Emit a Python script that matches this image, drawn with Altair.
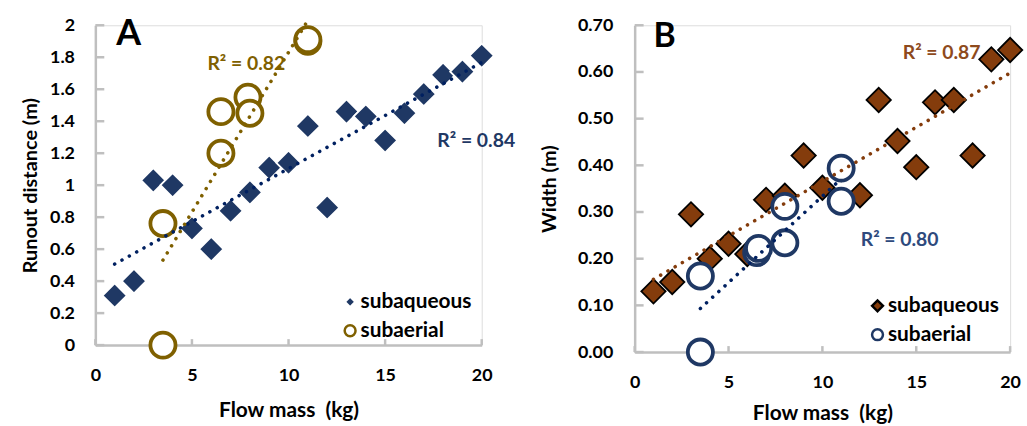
import altair as alt
import pandas as pd

# ---------------- data ----------------
series = ["subaqueous", "subaerial"]

a_aq_mass = [1, 2, 3, 4, 5, 6, 7, 8, 9, 10, 11, 12, 13, 14, 15, 16, 17, 18, 19, 20]
a_aq_runout = [0.31, 0.40, 1.03, 1.00, 0.73, 0.60, 0.84, 0.955, 1.11, 1.14,
               1.37, 0.86, 1.46, 1.43, 1.28, 1.45, 1.57, 1.69, 1.71, 1.81]
a_ae_mass = [3.5, 3.5, 6.5, 6.5, 7.9, 8.0, 11.0, 11.0]
a_ae_runout = [0.0, 0.76, 1.20, 1.46, 1.55, 1.45, 1.90, 1.91]

b_aq_mass = [1, 2, 3, 4, 5, 6, 7, 8, 9, 10, 11, 12, 13, 14, 15, 16, 17, 18, 19, 20]
b_aq_width = [0.13, 0.15, 0.295, 0.20, 0.232, 0.21, 0.326, 0.335, 0.421, 0.352,
              0.392, 0.336, 0.54, 0.452, 0.396, 0.535, 0.54, 0.421, 0.627, 0.647]
b_ae_mass = [3.5, 3.5, 6.5, 6.6, 8.0, 8.0, 11.0, 11.0]
b_ae_width = [0.0, 0.163, 0.213, 0.222, 0.234, 0.312, 0.394, 0.323]

a_r2_text = ["R² = 0.82", "R² = 0.84"]
a_r2_x = [5.8, 17.7]
a_r2_y = [1.76, 1.277]
b_r2_text = ["R² = 0.87", "R² = 0.80"]
b_r2_x = [14.28, 12.04]
b_r2_y = [0.640, 0.240]

x_ticks = [0, 5, 10, 15, 20]
a_y_ticks = [0, 0.2, 0.4, 0.6, 0.8, 1.0, 1.2, 1.4, 1.6, 1.8, 2.0]
b_y_ticks = [0, 0.1, 0.2, 0.3, 0.4, 0.5, 0.6, 0.7]

FONT = "Lato"
NAVY = "#1F3864"
GOLD = "#7F6000"
BROWN = "#843C0C"
DKBLUE = "#002060"
AXIS_GREY = "#BFBFBF"

AX_STYLE = dict(labelFont=FONT, labelFontSize=18, labelFontWeight="bold", labelColor="black",
                titleFont=FONT, titleFontWeight="bold", titleColor="black",
                labelOverlap=False, labelFlush=False, ticks=False, tickSize=0, grid=False,
                domainColor=AXIS_GREY, domainWidth=2.5)


def panel(aq_x, aq_y, ae_x, ae_y, ytitle, ydom, yticks, yfmt, h,
          aq_fill, aq_stroke, ae_stroke, aq_line, ae_line,
          r2_text, r2_x, r2_y, r2_colors, letter, letter_xy, letter_size,
          legend_xy, ylabel_pad, ytitle_pad, xlabel_pad, xtitle_pad, w):
    pts = pd.DataFrame({
        "mass": list(aq_x) + list(ae_x),
        "val": list(aq_y) + list(ae_y),
        "series": [series[0]] * len(aq_x) + [series[1]] * len(ae_x),
    })
    xs = alt.Scale(domain=[0, 20], nice=False)
    ys = alt.Scale(domain=ydom, nice=False)
    xaxis = alt.Axis(values=x_ticks, tickCount=len(x_ticks) + 1, title="Flow mass\u00a0 (kg)",
                     titleFontSize=21,
                     labelPadding=xlabel_pad, titlePadding=xtitle_pad, **AX_STYLE)
    yaxis = alt.Axis(values=yticks, tickCount=len(yticks) + 1, title=ytitle, format=yfmt,
                     titleFontSize=20,
                     labelPadding=ylabel_pad, titlePadding=ytitle_pad, **AX_STYLE)

    fill_s = alt.Scale(domain=series, range=[aq_fill, "white"])
    stroke_s = alt.Scale(domain=series, range=[aq_stroke, ae_stroke])
    shape_s = alt.Scale(domain=series, range=["diamond", "circle"])
    leg = alt.Legend(title=None, orient="none", legendX=legend_xy[0], legendY=legend_xy[1],
                     labelFont=FONT, labelFontSize=21, labelFontWeight="bold",
                     labelColor="black", symbolSize=120, symbolStrokeWidth=2.5,
                     rowPadding=7, labelOffset=0, padding=0)

    enc = dict(
        x=alt.X("mass:Q", scale=xs, axis=xaxis),
        y=alt.Y("val:Q", scale=ys, axis=yaxis),
        fill=alt.Fill("series:N", scale=fill_s, legend=leg),
        stroke=alt.Stroke("series:N", scale=stroke_s, legend=leg),
        shape=alt.Shape("series:N", scale=shape_s, legend=leg),
    )
    base = alt.Chart(pts)
    diam = base.transform_filter(alt.datum.series == series[0]).mark_point(
        filled=False, size=600, strokeWidth=1.8, opacity=1, fillOpacity=1).encode(**enc)
    circ = base.transform_filter(alt.datum.series == series[1]).mark_point(
        filled=False, size=640, strokeWidth=3.8, opacity=1, fillOpacity=1).encode(**enc)

    dotted = dict(strokeDash=[0.01, 8.4], strokeCap="round", strokeWidth=3.6)
    reg_aq = base.transform_filter(alt.datum.series == series[0]).transform_regression(
        "mass", "val").mark_line(color=aq_line, **dotted).encode(
        x=alt.X("mass:Q", scale=xs), y=alt.Y("val:Q", scale=ys))
    reg_ae = base.transform_filter(alt.datum.series == series[1]).transform_regression(
        "mass", "val").mark_line(color=ae_line, **dotted).encode(
        x=alt.X("mass:Q", scale=xs), y=alt.Y("val:Q", scale=ys))

    ytk = alt.Chart(pd.DataFrame({"v": yticks})).mark_rule(
        color=AXIS_GREY, strokeWidth=2.5).encode(
        y=alt.Y("v:Q", scale=ys, axis=yaxis), x=alt.value(0), x2=alt.value(9))
    xtk = alt.Chart(pd.DataFrame({"v": x_ticks})).mark_rule(
        color=AXIS_GREY, strokeWidth=2.5).encode(
        x=alt.X("v:Q", scale=xs, axis=xaxis), y=alt.value(h), y2=alt.value(h - 6))

    r2 = alt.Chart(pd.DataFrame({"x": r2_x, "y": r2_y, "t": r2_text, "c": r2_colors})).mark_text(
        font=FONT, fontSize=19.5, fontWeight="bold", align="left", baseline="middle").encode(
        x=alt.X("x:Q", scale=xs), y=alt.Y("y:Q", scale=ys), text="t:N",
        color=alt.Color("c:N", scale=None))
    let = alt.Chart(pd.DataFrame({"x": [letter_xy[0]], "y": [letter_xy[1]], "t": [letter]})).mark_text(
        font=FONT, fontSize=letter_size, fontWeight="bold", align="left",
        baseline="alphabetic", color="black").encode(
        x=alt.X("x:Q", scale=xs), y=alt.Y("y:Q", scale=ys), text="t:N")

    return alt.layer(ytk, xtk, diam, circ, reg_aq, reg_ae, r2, let).properties(
        width=w, height=h)


pa = panel(a_aq_mass, a_aq_runout, a_ae_mass, a_ae_runout, "Runout distance (m)",
           [0, 2], a_y_ticks, "~g", 322,
           NAVY, "white", GOLD, DKBLUE, GOLD,
           a_r2_text, a_r2_x, a_r2_y, [GOLD, NAVY], "A", [1.08, 1.875], 36,
           [246, 268], 21, 9, 22, 15, 389)
pb = panel(b_aq_mass, b_aq_width, b_ae_mass, b_ae_width, "Width (m)",
           [0, 0.7], b_y_ticks, ".2f", 329,
           BROWN, "black", NAVY, BROWN, DKBLUE,
           b_r2_text, b_r2_x, b_r2_y, ["#8E4A1C", "#2E4A7D"], "B", [1.0, 0.653], 34,
           [234, 272], 22, 18, 22, 11, 378)

chart = alt.hconcat(pa, pb, spacing=154, bounds="flush").resolve_scale(
    fill="independent", stroke="independent", shape="independent"
).resolve_legend(fill="independent", stroke="independent", shape="independent").properties(
    padding={"left": 20, "top": 11, "right": 0, "bottom": 0}
).configure_view(stroke=None).configure(background="white")

chart.save("out.html", embed_options={"renderer": "svg", "actions": False})
